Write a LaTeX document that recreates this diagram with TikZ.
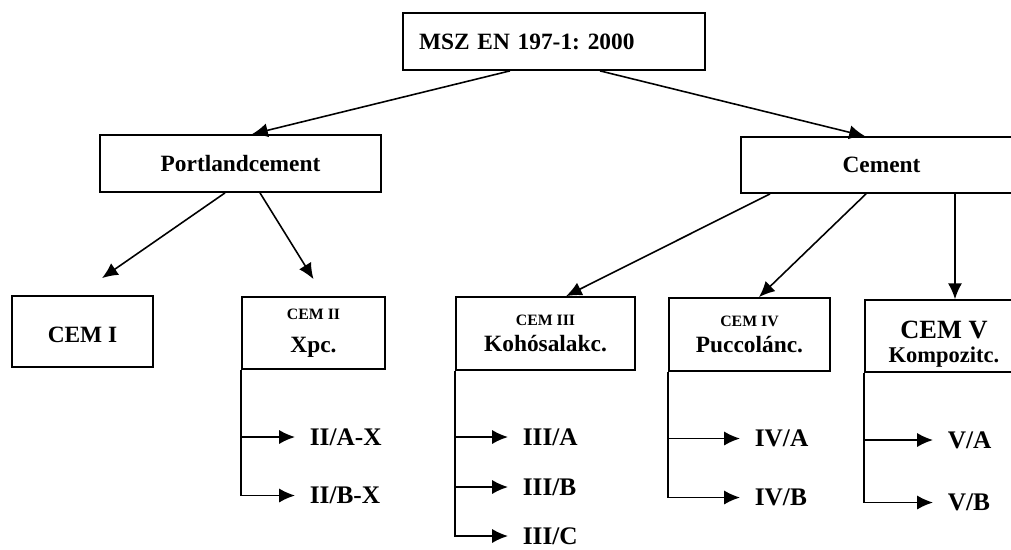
\documentclass[tikz,border=0pt]{standalone}
\usepackage{fontspec}
\setmainfont{Liberation Serif}
\usetikzlibrary{arrows.meta}
\newcommand\cemsmall{\fontsize{9}{10}\selectfont}

\begin{document}
\frenchspacing
\begin{tikzpicture}[x=0.02cm, y=-0.02cm, >={Latex[length=9pt, width=8pt]},
    box/.style={draw, line width=1pt, inner sep=0pt, align=center, font=\bfseries\fontsize{13.3}{16}\selectfont},
    lbl/.style={anchor=west, inner sep=2pt, font=\bfseries\fontsize{14.4}{17}\selectfont},
    link/.style={->, line width=0.9pt},
    branch/.style={->, line width=0.9pt, shorten >=0.22cm}]
  \useasboundingbox (0,0) rectangle (1011,549);
  \clip (0,0) rectangle (1011,549);

  % boxes
  \node[box, minimum width=6.04cm, minimum height=1.14cm, text width=5.4cm, align=left] (msz) at (554,41.5) {MSZ EN 197-1: 2000};
  \node[box, minimum width=5.62cm, minimum height=1.14cm] (port) at (240.5,163.5) {Portlandcement};
  \node[box, minimum width=5.62cm, minimum height=1.12cm] (cement) at (881.5,165) {Cement};
  \node[box, minimum width=2.82cm, minimum height=1.42cm] (cem1) at (82.5,331.5) {\rule{0pt}{13pt}CEM I};
  \node[box, minimum width=2.86cm, minimum height=1.44cm] (cem2) at (313.5,333) {{\cemsmall CEM II}\\[3pt] Xpc.};
  \node[box, minimum width=3.58cm, minimum height=1.46cm] (cem3) at (545.5,333.5) {{\cemsmall CEM III}\\[-1pt] Kohósalakc.};
  \node[box, minimum width=3.22cm, minimum height=1.46cm] (cem4) at (749.5,334.5) {{\cemsmall CEM IV}\\[-1pt] Puccolánc.};
  \node[box, minimum width=3.16cm, minimum height=1.44cm] (cem5) at (944,336) {{\fontsize{15}{18}\selectfont\rule{0pt}{19pt}CEM V}\\[-2pt] {\fontsize{12.8}{15}\selectfont Kompozitc.}};

  % sub types
  \node[lbl] (iia) at (306,437) {II/A-X};
  \node[lbl] (iib) at (306,495.5) {II/B-X};
  \node[lbl] (iiia) at (519,437) {III/A};
  \node[lbl] (iiib) at (519,487) {III/B};
  \node[lbl] (iiic) at (519,536) {III/C};
  \node[lbl] (iva) at (751,438.5) {IV/A};
  \node[lbl] (ivb) at (751,497.5) {IV/B};
  \node[lbl] (va) at (944,440) {V/A};
  \node[lbl] (vb) at (944,502.5) {V/B};

  % tree
  \draw[link] ([xshift=-0.88cm]msz.south) -- ([xshift=0.23cm]port.north);
  \draw[link] ([xshift=0.92cm]msz.south) -- ([xshift=-0.33cm]cement.north);
  \draw[link] ([xshift=-0.31cm]port.south) -- ([xshift=0.39cm, yshift=0.34cm]cem1.north);
  \draw[link] ([xshift=0.39cm]port.south) -- ([yshift=0.34cm]cem2.north);
  \draw[link] ([xshift=-2.23cm]cement.south) -- ([xshift=0.41cm]cem3.north);
  \draw[link] ([xshift=-0.31cm]cement.south) -- ([xshift=0.19cm]cem4.north);
  \draw[link] ([xshift=1.47cm]cement.south) -- ([xshift=1.47cm]cement.south |- cem5.north);

  \draw[branch] (cem2.south west) |- (iia);
  \draw[branch] (cem2.south west) |- (iib);
  \draw[branch] (cem3.south west) |- (iiia);
  \draw[branch] (cem3.south west) |- (iiib);
  \draw[branch] (cem3.south west) |- (iiic);
  \draw[branch] (cem4.south west) |- (iva);
  \draw[branch] (cem4.south west) |- (ivb);
  \draw[branch] (cem5.south west) |- (va);
  \draw[branch] (cem5.south west) |- (vb);
\end{tikzpicture}
\end{document}
